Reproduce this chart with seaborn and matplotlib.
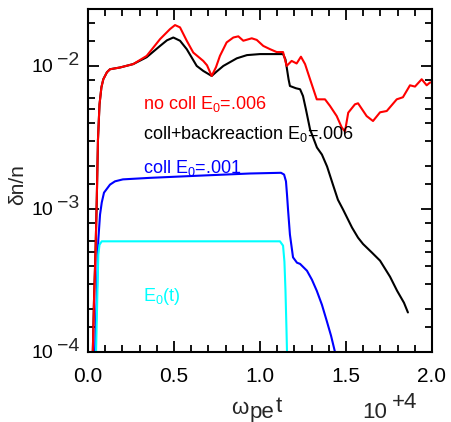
import matplotlib
matplotlib.use("Agg")
import matplotlib.pyplot as plt
import matplotlib.ticker as mticker
import pandas as pd
import seaborn as sns

# time axis in units of 10^4 / omega_pe
t_nocoll = [0.027, 0.035, 0.044, 0.051, 0.058, 0.067, 0.078, 0.089, 0.110, 0.128,
            0.186, 0.263, 0.341, 0.419, 0.477, 0.506, 0.535, 0.574, 0.612, 0.670,
            0.692, 0.719, 0.744, 0.767, 0.806, 0.845, 0.874, 0.903, 0.952, 0.981,
            1.019, 1.058, 1.097, 1.134, 1.155, 1.184, 1.213, 1.238, 1.262, 1.291,
            1.330, 1.378, 1.407, 1.446, 1.475, 1.494, 1.513, 1.552, 1.570, 1.620,
            1.657, 1.698, 1.737, 1.795, 1.831, 1.872, 1.901, 1.940, 1.969, 1.988, 2.000]
dn_nocoll = [9.0e-5, 2.32e-4, 5.19e-4, 1.16e-3, 3.06e-3, 5.39e-3, 7.09e-3, 8.07e-3, 9.03e-3, 9.48e-3,
             9.75e-3, 1.03e-2, 1.175e-2, 1.54e-2, 1.81e-2, 1.93e-2, 1.86e-2, 1.50e-2, 1.24e-2, 1.084e-2,
             1.01e-2, 8.51e-3, 9.79e-3, 1.175e-2, 1.46e-2, 1.58e-2, 1.61e-2, 1.50e-2, 1.56e-2, 1.52e-2,
             1.38e-2, 1.31e-2, 1.25e-2, 1.25e-2, 1.0e-2, 1.084e-2, 1.04e-2, 1.16e-2, 1.03e-2, 8.07e-3,
             5.84e-3, 5.84e-3, 5.25e-3, 4.46e-3, 3.72e-3, 3.48e-3, 4.71e-3, 5.39e-3, 5.48e-3, 4.46e-3,
             4.12e-3, 4.74e-3, 4.84e-3, 5.84e-3, 6.04e-3, 7.32e-3, 7.17e-3, 8.07e-3, 7.32e-3, 7.65e-3, 7.69e-3]

t_back = [0.027, 0.035, 0.044, 0.051, 0.058, 0.067, 0.078, 0.089, 0.110, 0.128,
          0.186, 0.263, 0.341, 0.419, 0.459, 0.496, 0.535, 0.574, 0.632, 0.670,
          0.719, 0.750, 0.787, 0.865, 0.924, 1.000, 1.134, 1.148, 1.157, 1.166,
          1.174, 1.209, 1.233, 1.250, 1.267, 1.291, 1.331, 1.360, 1.390, 1.424,
          1.453, 1.483, 1.535, 1.570, 1.599, 1.651, 1.698, 1.756, 1.797, 1.837, 1.860]
dn_back = [9.0e-5, 2.32e-4, 5.19e-4, 1.16e-3, 3.06e-3, 5.39e-3, 7.09e-3, 8.07e-3, 9.03e-3, 9.48e-3,
           9.75e-3, 1.03e-2, 1.15e-2, 1.38e-2, 1.51e-2, 1.58e-2, 1.50e-2, 1.31e-2, 1.0e-2, 9.23e-3,
           8.51e-3, 9.18e-3, 1.0e-2, 1.13e-2, 1.19e-2, 1.21e-2, 1.21e-2, 1.11e-2, 9.48e-3, 8.07e-3,
           7.24e-3, 6.98e-3, 6.87e-3, 6.16e-3, 4.97e-3, 3.60e-3, 2.69e-3, 2.40e-3, 1.98e-3, 1.48e-3,
           1.16e-3, 9.9e-4, 7.41e-4, 6.3e-4, 5.69e-4, 4.95e-4, 4.35e-4, 3.36e-4, 2.68e-4, 2.21e-4, 1.89e-4]

t_coll = [0.040, 0.052, 0.060, 0.070, 0.080, 0.093, 0.128, 0.157, 0.203, 0.360,
          0.651, 0.942, 1.122, 1.140, 1.151, 1.157, 1.163, 1.174, 1.192, 1.215,
          1.233, 1.273, 1.302, 1.330, 1.360, 1.388, 1.413, 1.436, 1.442]
dn_coll = [9.0e-5, 2.72e-4, 6.1e-4, 9.14e-4, 1.11e-3, 1.30e-3, 1.48e-3, 1.56e-3, 1.61e-3, 1.65e-3,
           1.71e-3, 1.77e-3, 1.79e-3, 1.74e-3, 1.56e-3, 1.26e-3, 9.9e-4, 6.62e-4, 4.59e-4, 4.21e-4,
           4.13e-4, 3.70e-4, 3.20e-4, 2.68e-4, 2.14e-4, 1.65e-4, 1.30e-4, 1.0e-4, 9.1e-5]

t_field = [0.046, 0.055, 0.060, 0.067, 0.080, 1.116, 1.134, 1.142, 1.148, 1.154, 1.157, 1.158]
e_field = [9.0e-5, 2.72e-4, 4.79e-4, 5.62e-4, 5.94e-4, 5.94e-4, 5.54e-4, 4.28e-4, 2.72e-4, 1.43e-4,
           1.0e-4, 9.0e-5]

runs = ["backreaction", "coll", "field", "nocoll"]
colors = {"nocoll": "#ff0000", "backreaction": "#000000", "coll": "#0000ff", "field": "#00ffff"}

df = pd.concat([
    pd.DataFrame({"t": t_back, "dn": dn_back, "run": "backreaction"}),
    pd.DataFrame({"t": t_coll, "dn": dn_coll, "run": "coll"}),
    pd.DataFrame({"t": t_field, "dn": e_field, "run": "field"}),
    pd.DataFrame({"t": t_nocoll, "dn": dn_nocoll, "run": "nocoll"}),
], ignore_index=True)

sns.set_style("ticks")
plt.rcParams["font.family"] = ["Liberation Sans", "DejaVu Sans"]
plt.rcParams["mathtext.fontset"] = "custom"
plt.rcParams["mathtext.rm"] = "Liberation Sans"
plt.rcParams["mathtext.it"] = "Liberation Sans"
plt.rcParams["mathtext.default"] = "regular"

fig = plt.figure(figsize=(4.51, 4.22), dpi=100)
ax = fig.add_axes([88 / 451, 1 - 352 / 422, 344 / 451, 343 / 422])

sns.lineplot(data=df, x="t", y="dn", hue="run", hue_order=runs, palette=colors,
             estimator=None, sort=False, legend=False, linewidth=1.5, ax=ax)

ax.set_yscale("log")
ax.set_xlim(0, 2.0)
ax.set_ylim(1e-4, 2.5e-2)

for s in ax.spines.values():
    s.set_linewidth(1.5)
    s.set_color("black")
    s.set_visible(True)

ax.xaxis.set_major_locator(mticker.MultipleLocator(0.5))
ax.xaxis.set_minor_locator(mticker.MultipleLocator(0.1))
ax.xaxis.set_major_formatter(mticker.FormatStrFormatter("%.1f"))
ax.yaxis.set_major_locator(mticker.LogLocator(base=10, numticks=10))
ax.yaxis.set_minor_locator(mticker.LogLocator(base=10, subs=[1.5, 2, 3, 4, 5, 6, 8], numticks=20))
ax.yaxis.set_major_formatter(mticker.FuncFormatter(lambda v, p: "10"))
ax.yaxis.set_minor_formatter(mticker.NullFormatter())

ax.tick_params(which="both", direction="in", top=True, right=True, width=1.3, colors="black")
ax.tick_params(which="major", length=8)
ax.tick_params(which="minor", length=5)
ax.tick_params(axis="x", which="major", labelsize=15, pad=11)
ax.tick_params(axis="y", which="major", labelsize=14, pad=25)

# decade exponents beside the "10" tick labels
for k in (-4, -3, -2):
    ax.annotate(f"\u2212{-k}", xy=(0, 10.0 ** k), xycoords=("axes fraction", "data"),
                xytext=(-6.5, 4), textcoords="offset points",
                ha="right", va="center", fontsize=14)

# x label: omega with its "pe" index and t, all at full size
ax.set_xlabel("ω", fontsize=16)
ax.xaxis.label.set_ha("left")
ax.xaxis.label.set_va("baseline")
ax.xaxis.set_label_coords(0.416, -0.181)
ax.text(0.469, -0.191, "pe", transform=ax.transAxes, fontsize=16, va="baseline", ha="left")
ax.text(0.546, -0.175, "t", transform=ax.transAxes, fontsize=16, va="baseline", ha="left")

ax.set_ylabel("δn/n", fontsize=15)
ax.yaxis.label.set_ha("center")
ax.yaxis.label.set_va("center")
ax.yaxis.set_label_coords(-0.206, 0.487)

# x-axis scale factor
ax.text(0.797, -0.1915, "10", transform=ax.transAxes, fontsize=16, va="baseline", ha="left")
ax.text(0.882, -0.162, "+4", transform=ax.transAxes, fontsize=16, va="baseline", ha="left")

ax.text(0.32, 4.97e-3, "no coll E$_0$=.006", color="#ff0000", fontsize=13, va="baseline")
ax.text(0.32, 3.06e-3, "coll+backreaction E$_0$=.006", color="#000000", fontsize=13, va="baseline")
ax.text(0.32, 1.79e-3, "coll E$_0$=.001", color="#0000ff", fontsize=13, va="baseline")
ax.text(0.32, 2.28e-4, "E$_0$(t)", color="#00ffff", fontsize=13, va="baseline")

fig.savefig("out.png", dpi=100)
